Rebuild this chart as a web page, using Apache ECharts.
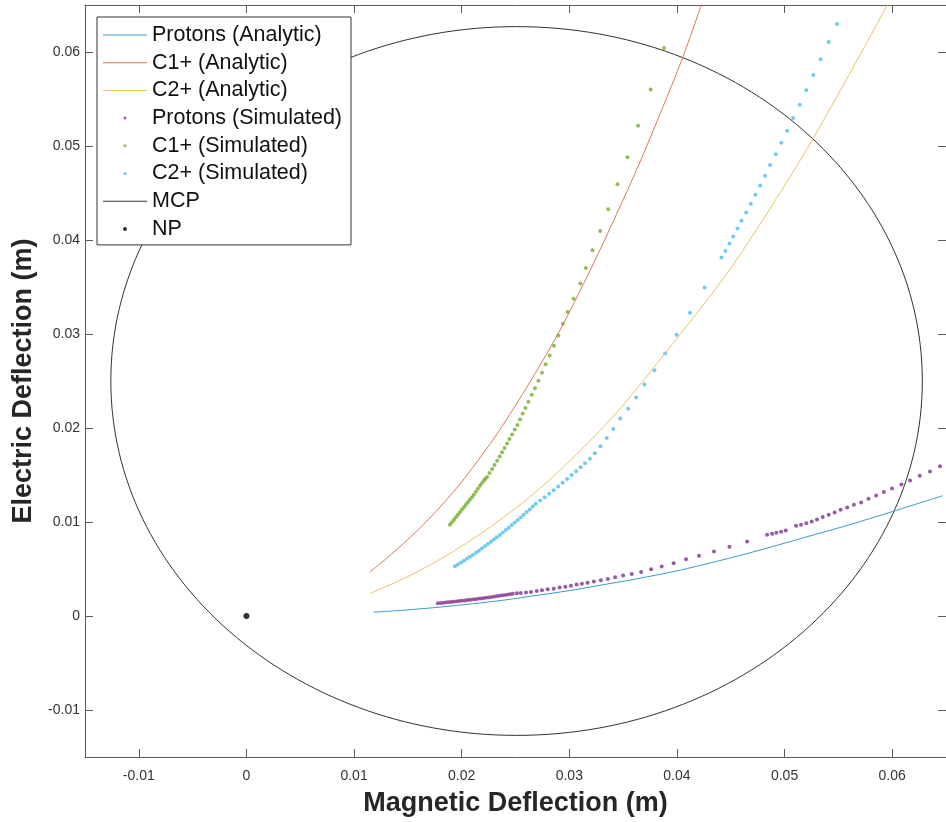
<!DOCTYPE html>
<html>
<head>
<meta charset="utf-8">
<title>Deflection</title>
<script src="https://cdn.jsdelivr.net/npm/echarts@6/dist/echarts.min.js"></script>
<style>
html, body { margin: 0; padding: 0; background: #fff; }
#main { width: 946px; height: 822px; }
</style>
</head>
<body>
<div id="main"></div>
<script>
// tick labels
var xTicks = [-0.01, 0, 0.01, 0.02, 0.03, 0.04, 0.05, 0.06];
var yTicks = [-0.01, 0, 0.01, 0.02, 0.03, 0.04, 0.05, 0.06];

// analytic curves [magnetic, electric]
var protonsAnalytic = [[0.0118, 0.0004], [0.015, 0.00065], [0.018, 0.00095], [0.021, 0.0013], [0.024, 0.0017],
	[0.027, 0.0022], [0.030, 0.0027], [0.033, 0.0033], [0.036, 0.0039], [0.040, 0.0048], [0.044, 0.0059],
	[0.048, 0.0071], [0.052, 0.0084], [0.056, 0.0097], [0.060, 0.0111], [0.0647, 0.0128]];
var c1Analytic = [[0.0115, 0.0047], [0.0135, 0.0066], [0.0158, 0.0090], [0.0180, 0.0116], [0.0203, 0.0147],
	[0.0233, 0.0194], [0.0264, 0.0250], [0.0289, 0.0299], [0.0310, 0.0346], [0.0332, 0.0398],
	[0.0363, 0.0476], [0.0385, 0.0536], [0.0405, 0.0593], [0.0423, 0.0651]];
var c2Analytic = [[0.0115, 0.0024], [0.0150, 0.0042], [0.0187, 0.0065], [0.0233, 0.0100], [0.0280, 0.0143],
	[0.0339, 0.0210], [0.0388, 0.0278], [0.0450, 0.0370], [0.0505, 0.0467], [0.0527, 0.0509],
	[0.0560, 0.0576], [0.0598, 0.0655]];

// simulated points
var protonsSim = [[0.01779, 0.00135], [0.01807, 0.00139], [0.01835, 0.00142], [0.01863, 0.00145], [0.01891, 0.00148],
	[0.01918, 0.00151], [0.01946, 0.00155], [0.01974, 0.00159], [0.02002, 0.00162], [0.02030, 0.00166],
	[0.02057, 0.00170], [0.02085, 0.00174], [0.02113, 0.00178], [0.02141, 0.00181], [0.02169, 0.00186],
	[0.02196, 0.00190], [0.02224, 0.00194], [0.02252, 0.00198], [0.02280, 0.00203], [0.02308, 0.00208],
	[0.02335, 0.00212], [0.02363, 0.00217], [0.02391, 0.00222], [0.02419, 0.00227], [0.02447, 0.00231],
	[0.02474, 0.00237], [0.02512, 0.00242], [0.02549, 0.00246], [0.02598, 0.00250], [0.02644, 0.00256],
	[0.02697, 0.00267], [0.02746, 0.00274], [0.02799, 0.00285], [0.02855, 0.00291], [0.02910, 0.00302],
	[0.02963, 0.00312], [0.03015, 0.00323], [0.03068, 0.00334], [0.03117, 0.00344], [0.03170, 0.00355],
	[0.03228, 0.00366], [0.03293, 0.00381], [0.03358, 0.00394], [0.03426, 0.00413], [0.03500, 0.00430],
	[0.03580, 0.00448], [0.03667, 0.00469], [0.03760, 0.00498], [0.03858, 0.00526], [0.03969, 0.00562],
	[0.04084, 0.00604], [0.04205, 0.00640], [0.04344, 0.00685], [0.04488, 0.00736], [0.04652, 0.00792],
	[0.04838, 0.00864], [0.04884, 0.00874], [0.04924, 0.00885], [0.04968, 0.00896], [0.05011, 0.00910],
	[0.05107, 0.00959], [0.05153, 0.00970], [0.05202, 0.00988], [0.05252, 0.01005], [0.05301, 0.01027],
	[0.05354, 0.01052], [0.05410, 0.01077], [0.05465, 0.01101], [0.05521, 0.01130], [0.05582, 0.01155],
	[0.05644, 0.01183], [0.05712, 0.01208], [0.05780, 0.01247], [0.05851, 0.01283], [0.05922, 0.01319],
	[0.05999, 0.01357], [0.06086, 0.01400], [0.06166, 0.01442], [0.06256, 0.01493], [0.06351, 0.01538],
	[0.06444, 0.01592]];
var c1Sim = [[0.01891, 0.00970], [0.01909, 0.00997], [0.01928, 0.01023], [0.01946, 0.01050], [0.01965, 0.01077],
	[0.01983, 0.01103], [0.02002, 0.01130], [0.02020, 0.01157], [0.02039, 0.01183], [0.02057, 0.01210],
	[0.02076, 0.01237], [0.02095, 0.01263], [0.02113, 0.01290], [0.02132, 0.01322], [0.02150, 0.01354],
	[0.02169, 0.01386], [0.02187, 0.01413], [0.02206, 0.01439], [0.02220, 0.01461], [0.02236, 0.01479],
	[0.02259, 0.01521], [0.02283, 0.01564], [0.02305, 0.01607], [0.02329, 0.01652], [0.02354, 0.01698],
	[0.02375, 0.01741], [0.02398, 0.01788], [0.02422, 0.01834], [0.02444, 0.01884], [0.02468, 0.01930],
	[0.02493, 0.01983], [0.02518, 0.02033], [0.02542, 0.02090], [0.02567, 0.02154], [0.02592, 0.02214],
	[0.02620, 0.02278], [0.02651, 0.02353], [0.02681, 0.02423], [0.02713, 0.02502], [0.02746, 0.02587],
	[0.02780, 0.02679], [0.02817, 0.02772], [0.02857, 0.02875], [0.02898, 0.02985], [0.02941, 0.03110],
	[0.02984, 0.03234], [0.03040, 0.03376], [0.03102, 0.03536], [0.03154, 0.03703], [0.03216, 0.03891],
	[0.03287, 0.04097], [0.03361, 0.04328], [0.03448, 0.04592], [0.03540, 0.04880], [0.03639, 0.05216],
	[0.03756, 0.05600], [0.03880, 0.06042]];
var c2Sim = [[0.01937, 0.00528], [0.01965, 0.00548], [0.01993, 0.00568], [0.02020, 0.00588], [0.02048, 0.00609],
	[0.02076, 0.00629], [0.02104, 0.00650], [0.02132, 0.00673], [0.02159, 0.00695], [0.02187, 0.00719],
	[0.02215, 0.00742], [0.02243, 0.00765], [0.02271, 0.00789], [0.02298, 0.00813], [0.02326, 0.00838],
	[0.02354, 0.00862], [0.02382, 0.00888], [0.02410, 0.00914], [0.02437, 0.00940], [0.02465, 0.00967],
	[0.02493, 0.00994], [0.02521, 0.01021], [0.02549, 0.01049], [0.02576, 0.01077], [0.02604, 0.01106],
	[0.02632, 0.01134], [0.02660, 0.01164], [0.02688, 0.01194], [0.02729, 0.01228], [0.02771, 0.01263],
	[0.02813, 0.01301], [0.02854, 0.01338], [0.02896, 0.01377], [0.02938, 0.01418], [0.02980, 0.01458],
	[0.03021, 0.01500], [0.03063, 0.01541], [0.03105, 0.01583], [0.03146, 0.01626], [0.03191, 0.01674],
	[0.03237, 0.01732], [0.03290, 0.01807], [0.03348, 0.01894], [0.03408, 0.01990], [0.03473, 0.02100],
	[0.03547, 0.02204], [0.03621, 0.02324], [0.03698, 0.02463], [0.03791, 0.02615], [0.03890, 0.02793],
	[0.03997, 0.02993], [0.04121, 0.03225], [0.04257, 0.03494], [0.04414, 0.03813], [0.04451, 0.03884],
	[0.04488, 0.03963], [0.04523, 0.04037], [0.04563, 0.04123], [0.04600, 0.04204], [0.04643, 0.04293],
	[0.04687, 0.04385], [0.04729, 0.04481], [0.04773, 0.04581], [0.04819, 0.04683], [0.04866, 0.04797],
	[0.04918, 0.04911], [0.04970, 0.05035], [0.05023, 0.05163], [0.05079, 0.05299], [0.05141, 0.05440],
	[0.05202, 0.05594], [0.05267, 0.05754], [0.05335, 0.05924], [0.05410, 0.06106], [0.05487, 0.06297],
	[0.05567, 0.06503]];

// MCP circle: centre x, centre y, radius
var mcp = [[0.0251, 0.0250, 0.0377]];
// NP
var np = [[0, 0]];

var dotIcon = 'path://M0,0M44,14M20.5,7A1.5,1.5,0,1,1,23.5,7A1.5,1.5,0,1,1,20.5,7Z';
var npIcon = 'path://M0,0M44,14M20,7A2,2,0,1,1,24,7A2,2,0,1,1,20,7Z';
var lineIcon = 'path://M0,0M44,14M0,6.5L44,6.5L44,7.5L0,7.5Z';
var axisColor = '#5a5a5a';
var fmt = function(v) { return String(Math.round(v * 100) / 100); };

var myChart = echarts.init(document.getElementById('main'));
var option = {
	animation: false,
	backgroundColor: '#fff',
	grid: { left: 85, right: -3, top: 5, bottom: 65, containLabel: false },
	legend: {
		orient: 'vertical',
		left: 97,
		top: 17,
		padding: [7, 9, 5, 6],
		itemWidth: 44,
		itemHeight: 14,
		itemGap: 5.7,
		backgroundColor: '#fff',
		borderColor: '#333',
		borderWidth: 1,
		textStyle: { fontFamily: 'Liberation Sans', fontSize: 21.5, color: '#111' },
		data: [
			{ name: 'Protons (Analytic)', icon: lineIcon },
			{ name: 'C1+ (Analytic)', icon: lineIcon },
			{ name: 'C2+ (Analytic)', icon: lineIcon },
			{ name: 'Protons (Simulated)', icon: dotIcon },
			{ name: 'C1+ (Simulated)', icon: dotIcon },
			{ name: 'C2+ (Simulated)', icon: dotIcon },
			{ name: 'MCP', icon: lineIcon },
			{ name: 'NP', icon: npIcon }
		]
	},
	xAxis: [{
		type: 'value',
		min: -0.015,
		max: 0.065,
		position: 'bottom',
		name: 'Magnetic Deflection (m)',
		nameLocation: 'middle',
		nameGap: 33,
		nameTextStyle: { fontFamily: 'Liberation Sans', fontSize: 27, fontWeight: 'bold', color: '#262626' },
		axisLine: { show: true, onZero: false, lineStyle: { color: axisColor } },
		axisTick: { show: true, inside: true, length: 8, customValues: xTicks, lineStyle: { color: axisColor } },
		axisLabel: { customValues: xTicks, formatter: fmt, margin: 12, fontFamily: 'Liberation Sans', fontSize: 14, color: '#333' },
		splitLine: { show: false }
	}, {
		type: 'value',
		min: -0.015,
		max: 0.065,
		position: 'top',
		axisLine: { show: true, onZero: false, lineStyle: { color: axisColor } },
		axisTick: { show: true, inside: true, length: 8, customValues: xTicks, lineStyle: { color: axisColor } },
		axisLabel: { show: false },
		splitLine: { show: false }
	}],
	yAxis: [{
		type: 'value',
		min: -0.015,
		max: 0.065,
		position: 'left',
		name: 'Electric Deflection (m)',
		nameLocation: 'middle',
		nameGap: 44,
		nameTextStyle: { fontFamily: 'Liberation Sans', fontSize: 27, fontWeight: 'bold', color: '#262626' },
		axisLine: { show: true, onZero: false, lineStyle: { color: axisColor } },
		axisTick: { show: true, inside: true, length: 8, customValues: yTicks, lineStyle: { color: axisColor } },
		axisLabel: { customValues: yTicks, formatter: fmt, margin: 5, fontFamily: 'Liberation Sans', fontSize: 14, color: '#333' },
		splitLine: { show: false }
	}, {
		type: 'value',
		min: -0.015,
		max: 0.065,
		position: 'right',
		axisLine: { show: true, onZero: false, lineStyle: { color: axisColor } },
		axisTick: { show: true, inside: true, length: 8, customValues: yTicks, lineStyle: { color: axisColor } },
		axisLabel: { show: false },
		splitLine: { show: false }
	}],
	series: [{
		name: 'Protons (Analytic)',
		type: 'line',
		data: protonsAnalytic,
		smooth: 0.3,
		symbol: 'none',
		color: '#3a9bc2',
		lineStyle: { width: 1, color: '#3a9bc2' }
	}, {
		name: 'C1+ (Analytic)',
		type: 'line',
		data: c1Analytic,
		smooth: 0.3,
		symbol: 'none',
		color: '#d77a57',
		lineStyle: { width: 1, color: '#d77a57' }
	}, {
		name: 'C2+ (Analytic)',
		type: 'line',
		data: c2Analytic,
		smooth: 0.3,
		symbol: 'none',
		color: '#e9c463',
		lineStyle: { width: 1, color: '#e9c463' }
	}, {
		name: 'Protons (Simulated)',
		type: 'scatter',
		data: protonsSim,
		symbolSize: 4,
		itemStyle: { color: '#7E2F8E' }
	}, {
		name: 'C1+ (Simulated)',
		type: 'scatter',
		data: c1Sim,
		symbolSize: 4,
		itemStyle: { color: '#77AC30' }
	}, {
		name: 'C2+ (Simulated)',
		type: 'scatter',
		data: c2Sim,
		symbolSize: 4,
		itemStyle: { color: '#4DBEEE' }
	}, {
		name: 'MCP',
		type: 'custom',
		data: mcp,
		itemStyle: { color: '#333' },
		renderItem: function(params, api) {
			var c = api.coord([api.value(0), api.value(1)]);
			var s = api.size([api.value(2), api.value(2)]);
			return {
				type: 'ellipse',
				shape: { cx: c[0], cy: c[1], rx: s[0], ry: s[1] },
				style: { fill: 'none', stroke: '#333', lineWidth: 1 }
			};
		}
	}, {
		name: 'NP',
		type: 'scatter',
		data: np,
		symbolSize: 6,
		itemStyle: { color: '#000' }
	}]
};
myChart.setOption(option);
</script>
</body>
</html>
